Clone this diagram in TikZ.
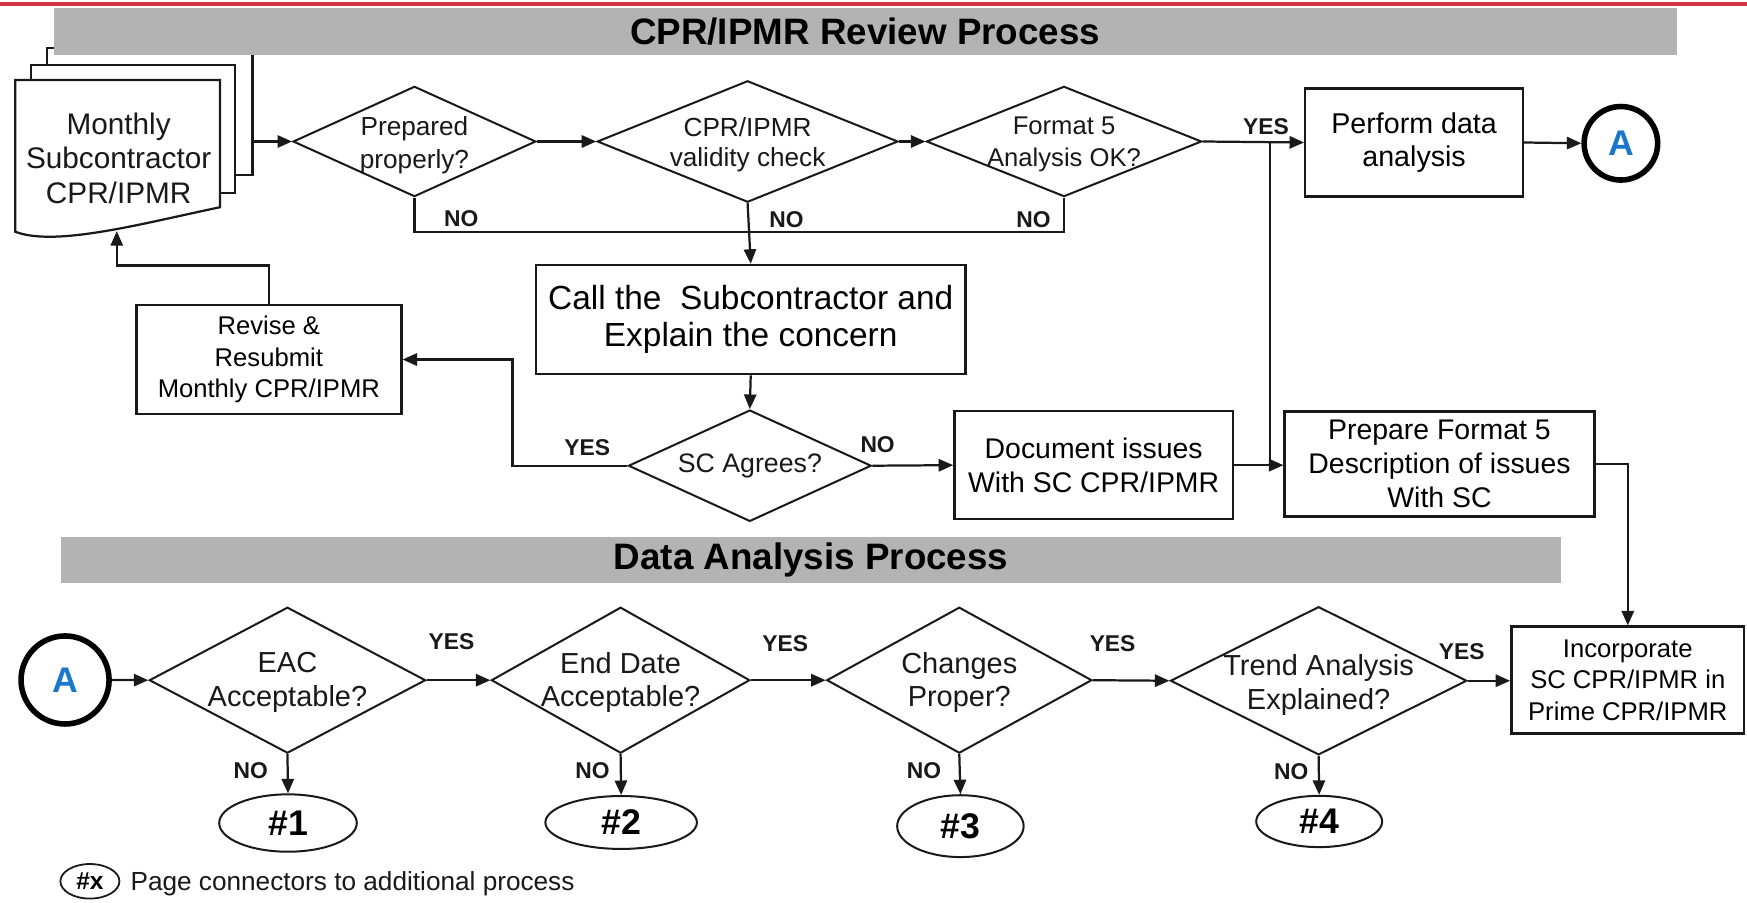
\documentclass[tikz,border=0pt]{standalone}
\usepackage{fontspec}
\setmainfont{Liberation Sans}
\usetikzlibrary{arrows.meta,shapes.geometric,calc}

\definecolor{barGray}{RGB}{179,179,179}
\definecolor{topRed}{RGB}{210,52,70}
\definecolor{connBlue}{RGB}{28,118,204}
\definecolor{ink}{RGB}{25,25,25}

\tikzset{
  arr/.style={draw=ink, line width=2pt, -{Triangle[length=13pt,width=11pt]}},
  conn/.style={draw=ink, line width=2pt},
  docline/.style={draw=ink, line width=2pt, fill=white},
  boxnode/.style={draw=ink, line width=2.2pt, fill=white, rectangle, inner sep=0pt, align=center},
  dia/.style={draw=ink, line width=1.8pt, diamond, inner sep=0pt, fill=white},
  term/.style={draw=ink, line width=1.8pt, ellipse, inner sep=0pt,
    font=\bfseries\fontsize{32}{36}\selectfont},
  ring/.style={draw=black, line width=5pt, circle, inner sep=0pt, fill=white,
    text=connBlue, font=\bfseries\fontsize{32}{36}\selectfont},
  yn/.style={font=\bfseries\fontsize{20.5}{24}\selectfont, inner sep=0pt, text=ink},
  bar/.style={fill=barGray, rectangle, inner sep=0pt,
    font=\bfseries\fontsize{33}{38}\selectfont},
  txt/.style={align=center, inner sep=0pt, text=ink},
}

\begin{document}
\begin{tikzpicture}[x=1pt,y=-1pt]
\useasboundingbox (0,0) rectangle (1568,810);
\fill[white] (0,0) rectangle (1568,810);

% header rule
\draw[topRed, line width=3.2pt] (0,3.6) -- (1568,3.6);

% stacked report pages
\draw[docline] (41.9,43.4) rectangle (226.7,157);
\draw[docline] (27.5,58.3) rectangle (210.6,173.5);
\draw[docline] (13.7,71.8) -- (197.5,71.8) -- (197.5,186)
  .. controls (130,200) and (50,222) .. (13.7,208) -- cycle;
\node[inner sep=0pt, minimum width=213pt, minimum height=100pt] (stack) at (120.2,127) {};
\node[txt, font=\fontsize{26.7}{31}\selectfont] (doctxt) at (106.5,142)
  {Monthly\\Subcontractor\\CPR/IPMR};
\coordinate (docbot) at (104.8,207.5);

% section headers
\node[bar, minimum width=1456.9pt, minimum height=41.6pt] (bar1) at (776.5,28.2)
  {CPR/IPMR Review Process};
\node[bar, minimum width=1346pt, minimum height=41.8pt] (bar2) at (728,502.6)
  {Data Analysis Process};

% review decisions
\node[dia, minimum width=218pt, minimum height=99pt,
  label={[txt, yshift=-3.5pt, font=\fontsize{23.5}{30}\selectfont]center:Prepared\\properly?}]
  (d1) at (372,127) {};
\node[dia, minimum width=270pt, minimum height=109pt,
  label={[txt, yshift=-2.5pt, font=\fontsize{23.5}{27}\selectfont]center:CPR/IPMR\\validity check}]
  (d2) at (671,127) {};
\node[dia, minimum width=247pt, minimum height=99pt,
  label={[txt, yshift=-2.5pt, font=\fontsize{23}{28}\selectfont]center:Format 5\\Analysis OK?}]
  (d3) at (955,127) {};

% review boxes
\node[boxnode, minimum width=195.4pt, minimum height=97.2pt,
  font=\fontsize{25.7}{30}\selectfont] (perform) at (1269.2,127.9)
  {\raisebox{-3pt}{Perform data}\\\raisebox{-3pt}{analysis}};
\node[ring, minimum size=66pt] (circA) at (1454.8,128.6) {A};
\node[boxnode, minimum width=385.6pt, minimum height=97.9pt,
  font=\fontsize{30}{33.5}\selectfont] (call) at (673.8,286.8)
  {Call the~ Subcontractor and\\Explain the concern};
\node[boxnode, minimum width=237.8pt, minimum height=97.9pt,
  font=\fontsize{23}{28.5}\selectfont] (revise) at (241.3,322.7)
  {Revise \&\\Resubmit\\Monthly CPR/IPMR};
\node[dia, minimum width=218pt, minimum height=100pt,
  label={[txt, font=\fontsize{24}{28}\selectfont]center:SC Agrees?}]
  (sc) at (673,418) {};
\node[boxnode, minimum width=250pt, minimum height=97.1pt,
  font=\fontsize{25.5}{30}\selectfont] (issues) at (981.6,417.5)
  {Document issues\\With SC CPR/IPMR};
\node[boxnode, minimum width=277.9pt, minimum height=94.2pt,
  font=\fontsize{25.5}{30.5}\selectfont] (prepare) at (1292,416.6)
  {Prepare Format 5\\Description of issues\\With SC};
\node[boxnode, minimum width=209pt, minimum height=95.8pt,
  font=\fontsize{23}{28.4}\selectfont] (incorp) at (1461,610.3)
  {Incorporate\\SC CPR/IPMR in\\Prime CPR/IPMR};

% review connectors
\draw[arr] (stack.east) -- (d1.west);
\draw[arr] (d1.east) -- (d2.west);
\draw[arr] (d2.east) -- (d3.west);
\draw[arr] (d3.east) -- (perform.west);
\draw[arr] (perform.east) -- (circA.west);
\coordinate (yesj) at (1139.8,127);
\draw[conn] (yesj) -- (yesj |- issues.east);
\draw[conn] (d1.south) -- ++(0,31) -| (d3.south);
\draw[arr] (d2.south) -- (call.north);
\draw[arr] (call.south) -- (sc.north);
\draw[arr] (sc.west) -- ++(-103.1,0) |- (revise.east);
\draw[arr] (revise.north) -- ++(0,-34.4) -| (docbot);
\draw[arr] (sc.east) -- (issues.west);
\draw[arr] (issues.east) -- (issues.east -| prepare.west);
\draw[arr] (prepare.east) -| (incorp.north);

% review branch labels
\node[yn] (lyes1) at (1136.3,114) {YES};
\node[yn] (lno1) at (414,196.5) {NO};
\node[yn] (lno2) at (706,197.5) {NO};
\node[yn] (lno3) at (927.6,197.5) {NO};
\node[yn] (lyes2) at (527,402) {YES};
\node[yn] (lno4) at (787.7,399.5) {NO};

% analysis chain
\node[ring, minimum size=79pt] (circB) at (58.4,610.3) {A};
\node[dia, minimum width=248pt, minimum height=131pt,
  label={[txt, yshift=-2pt, font=\fontsize{26}{30}\selectfont]center:EAC\\Acceptable?}]
  (eac) at (258,610.5) {};
\node[dia, minimum width=232pt, minimum height=131pt,
  label={[txt, yshift=-2pt, font=\fontsize{26}{30}\selectfont]center:End Date\\Acceptable?}]
  (enddate) at (557,610.5) {};
\node[dia, minimum width=238pt, minimum height=131pt,
  label={[txt, yshift=-2pt, font=\fontsize{26}{30}\selectfont]center:Changes\\Proper?}]
  (chg) at (861,610.5) {};
\node[dia, minimum width=266pt, minimum height=133pt,
  label={[txt, yshift=-4pt, font=\fontsize{26}{30}\selectfont]center:Trend Analysis\\Explained?}]
  (trend) at (1183.5,611) {};

\node[term, minimum width=123.5pt, minimum height=51.5pt] (p1) at (258.5,738.7) {\#1};
\node[term, minimum width=136pt, minimum height=47.5pt] (p2) at (557.5,738.2) {\#2};
\node[term, minimum width=113.5pt, minimum height=55.5pt] (p3) at (862,741.5) {\#3};
\node[term, minimum width=113pt, minimum height=46pt] (p4) at (1184,737.3) {\#4};

\draw[arr] (circB.east) -- (eac.west);
\draw[arr] (eac.east) -- (enddate.west);
\draw[arr] (enddate.east) -- (chg.west);
\draw[arr] (chg.east) -- (trend.west);
\draw[arr] (trend.east) -- (trend.east -| incorp.west);
\draw[arr] (eac.south) -- (p1.north);
\draw[arr] (enddate.south) -- (p2.north);
\draw[arr] (chg.south) -- (p3.north);
\draw[arr] (trend.south) -- (p4.north);

\node[yn] (lyes3) at (405.3,576) {YES};
\node[yn] (lyes4) at (704.7,577.4) {YES};
\node[yn] (lyes5) at (998.6,577.4) {YES};
\node[yn] (lyes6) at (1311.9,585) {YES};
\node[yn] (lno5) at (225,691.7) {NO};
\node[yn] (lno6) at (531.7,691.7) {NO};
\node[yn] (lno7) at (829.3,691.7) {NO};
\node[yn] (lno8) at (1159,692.6) {NO};

% legend
\node[draw=ink, line width=1.6pt, ellipse, inner sep=0pt, minimum width=53pt,
  minimum height=31pt, font=\bfseries\fontsize{22}{24}\selectfont] (legx) at (80.7,791) {\#x};
\node[txt, anchor=west, font=\fontsize{23.5}{26}\selectfont] (legtxt) at (117,793)
  {Page connectors to additional process};
\end{tikzpicture}
\end{document}
